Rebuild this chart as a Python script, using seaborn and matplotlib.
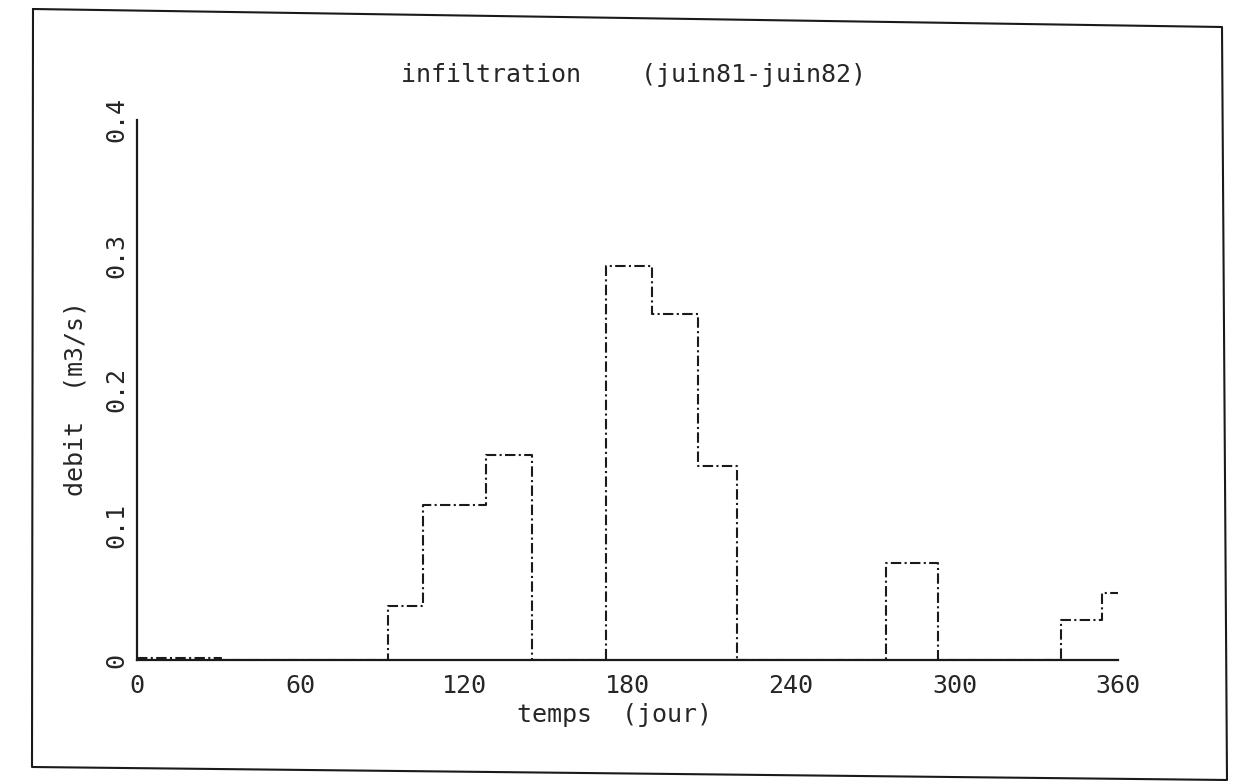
import matplotlib
matplotlib.use("Agg")
import matplotlib.pyplot as plt
import seaborn as sns
import pandas as pd
from matplotlib.lines import Line2D

# step edges (jour) and infiltration flow for each interval (m3/s)
edges = [0, 31, 92, 105, 128, 145, 172, 189, 206, 220, 275, 294, 339, 354, 360]
debit = [0.0015, 0.0, 0.040, 0.115, 0.152, 0.0, 0.292, 0.256, 0.144, 0.0, 0.072, 0.0, 0.030, 0.050]

x_ticks = [0, 60, 120, 180, 240, 300, 360]
y_ticks = [0, 0.1, 0.2, 0.3, 0.4]
y_tick_labels = ["0", "0.1", "0.2", "0.3", "0.4"]

sns.set_style("white")
plt.rcParams['font.family'] = ['DejaVu Sans Mono', 'DejaVu Sans']

df = pd.DataFrame({"temps": edges, "debit": debit + [debit[-1]]})

fig = plt.figure(figsize=(12.37, 7.81), dpi=100)
ax = fig.add_axes([137 / 1237, 1 - 660 / 781, 981 / 1237, 540 / 781])

sns.lineplot(data=df, x="temps", y="debit", ax=ax, estimator=None, sort=False,
             drawstyle="steps-post", color="#1a1a1a", linewidth=1.5,
             linestyle=(0, (5, 1.6, 1, 1.6)))

ax.set_xlim(0, 360)
ax.set_ylim(0, 0.4)
for side in ["top", "right"]:
    ax.spines[side].set_visible(False)
for side in ["left", "bottom"]:
    ax.spines[side].set_linewidth(1.6)
    ax.spines[side].set_color("#1a1a1a")

ax.set_xticks(x_ticks)
ax.set_xticklabels([str(t) for t in x_ticks], fontsize=18)
ax.set_yticks(y_ticks)
ax.set_yticklabels(y_tick_labels, fontsize=18, rotation=90, va="center")
ax.tick_params(axis="both", direction="in", length=6, width=1.4, color="#1a1a1a")
ax.tick_params(axis="x", pad=10)
ax.tick_params(axis="y", pad=6)

ax.set_xlabel("temps  (jour)", fontsize=18)
ax.xaxis.set_label_coords(0.487, -0.08)
ax.set_ylabel("debit  (m3/s)", fontsize=18)
ax.yaxis.set_label_coords(-0.05, 0.485)

ax.text(0.506, 1.083, "infiltration    (juin81-juin82)", transform=ax.transAxes,
        ha="center", va="center", fontsize=18)

# outer frame of the scanned page
W, H = 1237, 781
frame = [(33, 9), (1222, 27), (1227, 780), (32, 767), (33, 9)]
fig.add_artist(Line2D([p[0] / W for p in frame], [1 - p[1] / H for p in frame],
                      transform=fig.transFigure, color="#1a1a1a", linewidth=1.5))

fig.savefig("out.png", dpi=100, facecolor="white")
